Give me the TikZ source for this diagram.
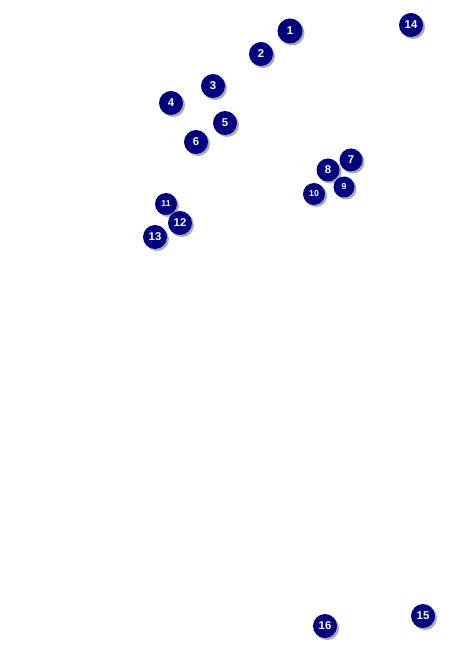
\documentclass[tikz,border=0pt]{standalone}
\usepackage{fontspec}
\setmainfont{Liberation Sans}
\definecolor{marknavy}{RGB}{0,0,128}
\definecolor{markshade}{RGB}{150,150,150}
\tikzset{
  markball/.style={circle,fill=marknavy,inner sep=0pt,minimum size=#1*0.75pt,text=white,font=\bfseries\fontsize{8.5}{9}\selectfont},
  markball/.default=24,
  markshadow/.style={fill=markshade,opacity=0.8}
}
\begin{document}
\begin{tikzpicture}[x=0.75pt,y=-0.75pt]
  \useasboundingbox (0,0) rectangle (459,648);
  % x/y/label/diameter
  \def\marks{290/31/1/25, 261/54/2/24, 213/86/3/24, 171/103/4/24, 225/123/5/24,
    196/142/6/24, 351/160/7/23, 344/187/9/21, 328/170/8/23, 314/194/10/22,
    166/204/11/22, 180/223/12/24, 155/237/13/24, 411/25/14/24, 423/616/15/24,
    325/626/16/24}
  \foreach \x/\y/\lbl/\d in \marks {
    \fill[markshadow] (\x+2,\y+2) circle ({\d/2});
  }
  \foreach \x/\y/\lbl/\d in \marks {
    \ifnum\d<23
      \node[markball=\d,font=\bfseries\fontsize{6.5}{7}\selectfont] (b\lbl) at (\x,\y) {\lbl};
    \else
      \node[markball=\d] (b\lbl) at (\x,\y) {\lbl};
    \fi
  }
\end{tikzpicture}
\end{document}
